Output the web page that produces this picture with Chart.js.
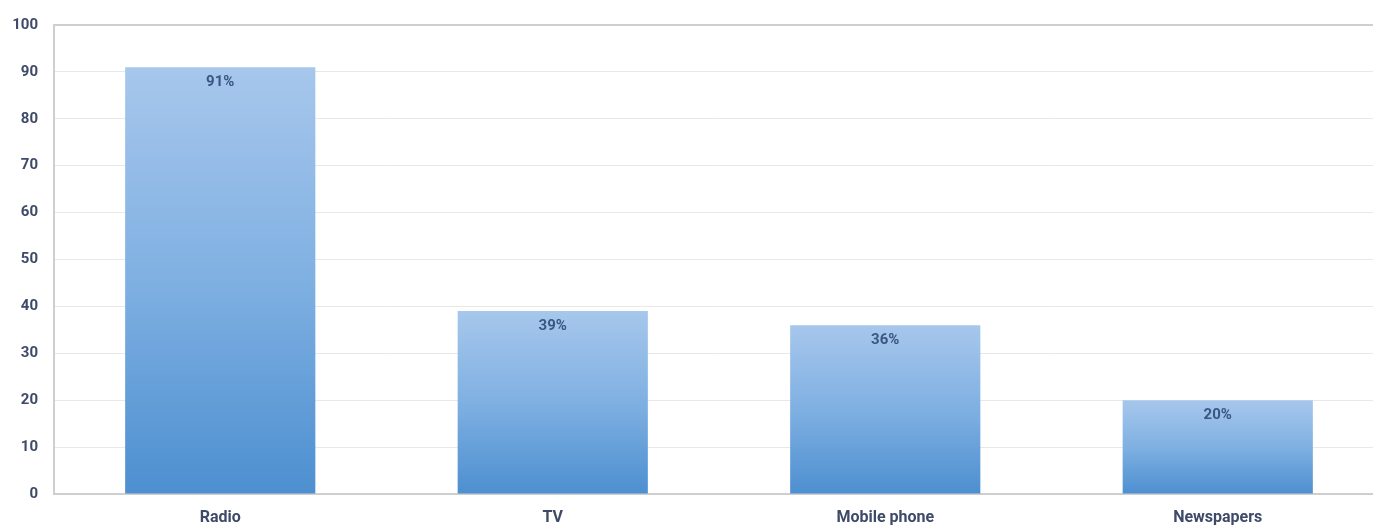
<!DOCTYPE html>
<html>
<head>
<meta charset="utf-8">
<script src="https://cdn.jsdelivr.net/npm/chart.js@4.4.1/dist/chart.umd.min.js"></script>
<style>
  html, body { margin: 0; padding: 0; background: #fff; overflow: hidden; }
  #wrap { position: relative; width: 1384px; height: 527px; }
</style>
</head>
<body>
<div id="wrap"><canvas id="mediaChart"></canvas></div>
<script>
const categories = ['Radio', 'TV', 'Mobile phone', 'Newspapers'];
const shares = [91, 39, 36, 20];
const yTicks = [0, 10, 20, 30, 40, 50, 60, 70, 80, 90, 100];

const tickColor = '#3e4a68';
const labelColor = '#3a5684';
const fontFamily = 'Roboto, "DejaVu Sans", sans-serif';

// each bar gets its own vertical fade: pale at the top, deeper blue at the base
function barGradient(context) {
  const chart = context.chart;
  const { ctx, chartArea, scales } = chart;
  if (!chartArea || !scales.y) return '#7aaade';
  const value = context.raw;
  const top = scales.y.getPixelForValue(value);
  const bottom = scales.y.getPixelForValue(0);
  const g = ctx.createLinearGradient(0, top, 0, bottom);
  g.addColorStop(0, '#a7c7ec');
  g.addColorStop(0.5, '#7fb0e2');
  g.addColorStop(1, '#4d8fd0');
  return g;
}

// percentage text just inside the top of each bar
const valueLabels = {
  id: 'valueLabels',
  afterDatasetsDraw(chart) {
    const { ctx } = chart;
    const meta = chart.getDatasetMeta(0);
    ctx.save();
    ctx.font = 'bold 15px ' + fontFamily;
    ctx.fillStyle = labelColor;
    ctx.textAlign = 'center';
    ctx.textBaseline = 'middle';
    meta.data.forEach((bar, i) => {
      ctx.fillText(shares[i] + '%', bar.x, bar.y + 15);
    });
    ctx.restore();
  }
};

// thin frame line along the top of the plot
const topBorder = {
  id: 'topBorder',
  beforeDatasetsDraw(chart) {
    const { ctx, chartArea } = chart;
    ctx.save();
    ctx.strokeStyle = '#cfcfcf';
    ctx.lineWidth = 2;
    ctx.beginPath();
    ctx.moveTo(chartArea.left, chartArea.top);
    ctx.lineTo(chartArea.right, chartArea.top);
    ctx.stroke();
    ctx.restore();
  }
};

new Chart(document.getElementById('mediaChart'), {
  type: 'bar',
  data: {
    labels: categories,
    datasets: [{
      data: shares,
      backgroundColor: barGradient,
      borderWidth: 0,
      barPercentage: 0.572,
      categoryPercentage: 1
    }]
  },
  options: {
    responsive: true,
    maintainAspectRatio: false,
    animation: false,
    layout: { padding: { top: 12, right: 0, bottom: 0, left: 0 } },
    plugins: {
      legend: { display: false },
      tooltip: { enabled: false }
    },
    scales: {
      x: {
        grid: { display: false, drawTicks: false },
        border: { color: '#cfcfcf', width: 2 },
        afterFit(scale) {
          scale.height = 33;
        },
        ticks: {
          color: tickColor,
          font: { family: fontFamily, size: 16, weight: 'bold' },
          padding: 14
        }
      },
      y: {
        min: 0,
        max: 100,
        afterBuildTicks(scale) {
          scale.ticks = yTicks.map(v => ({ value: v }));
        },
        afterFit(scale) {
          scale.width = 54;
        },
        grid: { color: '#e8e8e8', lineWidth: 1, drawTicks: false },
        border: { color: '#cfcfcf', width: 2 },
        ticks: {
          color: tickColor,
          font: { family: fontFamily, size: 15, weight: 'bold' },
          padding: 16
        }
      }
    }
  },
  plugins: [topBorder, valueLabels]
});
</script>
</body>
</html>
